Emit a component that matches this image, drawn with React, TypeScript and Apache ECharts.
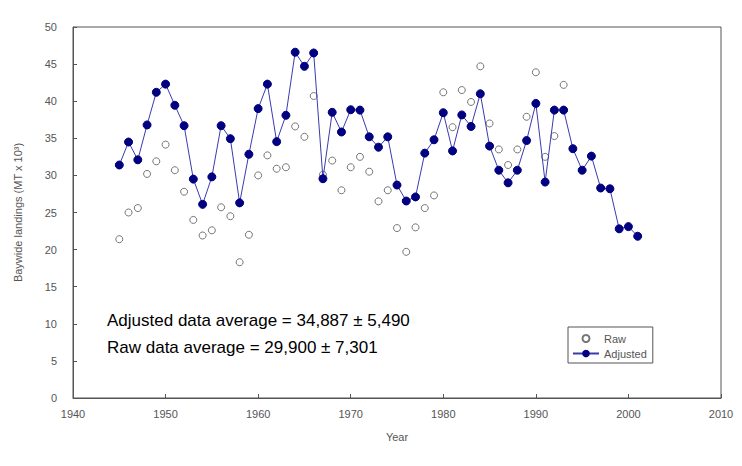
import React, { useEffect, useRef } from "react";
import * as echarts from "echarts";

const years: number[] = [];
for (let y = 1945; y <= 2001; y++) years.push(y);

const adjustedValues = [
  31.4, 34.5, 32.1, 36.8, 41.2, 42.3, 39.45, 36.7, 29.5, 26.1,
  29.8, 36.7, 34.95, 26.3, 32.85, 39.0, 42.3, 34.55, 38.1, 46.6,
  44.7, 46.5, 29.55, 38.5, 35.85, 38.85, 38.8, 35.2, 33.8, 35.2,
  28.7, 26.55, 27.1, 33.0, 34.8, 38.45, 33.3, 38.15, 36.6, 41.0,
  33.95, 30.7, 29.0, 30.7, 34.7, 39.7, 29.1, 38.8, 38.8, 33.6,
  30.7, 32.6, 28.3, 28.2, 22.8, 23.1, 21.8,
];

const rawValues = [
  21.4, 25.0, 25.6, 30.2, 31.9, 34.15, 30.7, 27.8, 24.0, 21.9,
  22.6, 25.7, 24.5, 18.3, 22.0, 30.0, 32.7, 30.9, 31.1, 36.6,
  35.2, 40.7, 30.1, 32.0, 28.0, 31.1, 32.5, 30.5, 26.5, 28.0,
  22.9, 19.7, 23.0, 25.6, 27.3, 41.2, 36.5, 41.5, 39.9, 44.7,
  37.0, 33.5, 31.4, 33.5, 37.9, 43.9, 32.5, 35.3, 42.2,
];

const annotationLines = [
  "Adjusted data average = 34,887 \u00b1 5,490",
  "Raw data average = 29,900 \u00b1 7,301",
];

export default function App() {
  const ref = useRef<HTMLDivElement>(null);
  useEffect(() => {
    if (!ref.current) return;
    const chart = echarts.init(ref.current, null, { renderer: "svg" });
    const font = "Liberation Sans, Arial, sans-serif";
    chart.setOption({
      animation: false,
      backgroundColor: "#ffffff",
      textStyle: { fontFamily: font },
      grid: {
        left: 73,
        right: 21,
        top: 27,
        bottom: 68,
        show: true,
        borderColor: "#555555",
        borderWidth: 1,
        backgroundColor: "transparent",
      },
      legend: {
        orient: "vertical",
        left: 568,
        top: 327,
        width: 89,
        padding: [6, 6, 4, 4],
        itemGap: 4,
        itemWidth: 26,
        itemHeight: 7,
        borderColor: "#555555",
        borderWidth: 1,
        borderRadius: 0,
        backgroundColor: "#ffffff",
        textStyle: { fontFamily: font, fontSize: 11, color: "#555555", padding: [0, 0, 0, 0] },
        data: ["Raw", "Adjusted"],
      },
      xAxis: {
        type: "value",
        min: 1940,
        max: 2010,
        interval: 10,
        name: "Year",
        nameLocation: "middle",
        nameGap: 33,
        nameTextStyle: { fontFamily: font, fontSize: 11, color: "#555555" },
        axisLine: { show: true, onZero: false, lineStyle: { color: "#555555" } },
        axisTick: { show: true, inside: true, length: 4, lineStyle: { color: "#555555" } },
        axisLabel: {
          fontFamily: font,
          fontSize: 11,
          color: "#555555",
          margin: 10,
          formatter: (v: number) => String(v),
        },
        splitLine: { show: false },
      },
      yAxis: {
        type: "value",
        min: 0,
        max: 50,
        interval: 5,
        name: "Baywide landings (MT x 10\u00b3)",
        nameLocation: "middle",
        nameGap: 50,
        nameTextStyle: { fontFamily: font, fontSize: 11, color: "#555555" },
        axisLine: { show: true, lineStyle: { color: "#555555" } },
        axisTick: { show: true, inside: true, length: 4, lineStyle: { color: "#555555" } },
        axisLabel: { fontFamily: font, fontSize: 11, color: "#555555", margin: 16 },
        splitLine: { show: false },
      },
      series: [
        {
          name: "Raw",
          type: "scatter",
          symbol: "circle",
          symbolSize: 7,
          itemStyle: { color: "#ffffff", borderColor: "#555555", borderWidth: 1 },
          data: rawValues.map((v, i) => [years[i], v]),
          z: 2,
        },
        {
          name: "Adjusted",
          type: "line",
          symbol: "circle",
          symbolSize: 8,
          showSymbol: true,
          lineStyle: { color: "#3a3ab0", width: 1 },
          itemStyle: { color: "#000080", borderColor: "#000080", borderWidth: 1 },
          data: adjustedValues.map((v, i) => [years[i], v]),
          z: 3,
        },
      ],
      graphic: annotationLines.map((t, i) => ({
        type: "text",
        left: 107,
        top: 312 + i * 27,
        style: { text: t, fontFamily: font, fontSize: 17, fill: "#000000" },
      })),
    });
    return () => chart.dispose();
  }, []);
  return (
    <div
      ref={ref}
      style={{ position: "fixed", left: 0, top: 0, width: 742, height: 466 }}
    />
  );
}
